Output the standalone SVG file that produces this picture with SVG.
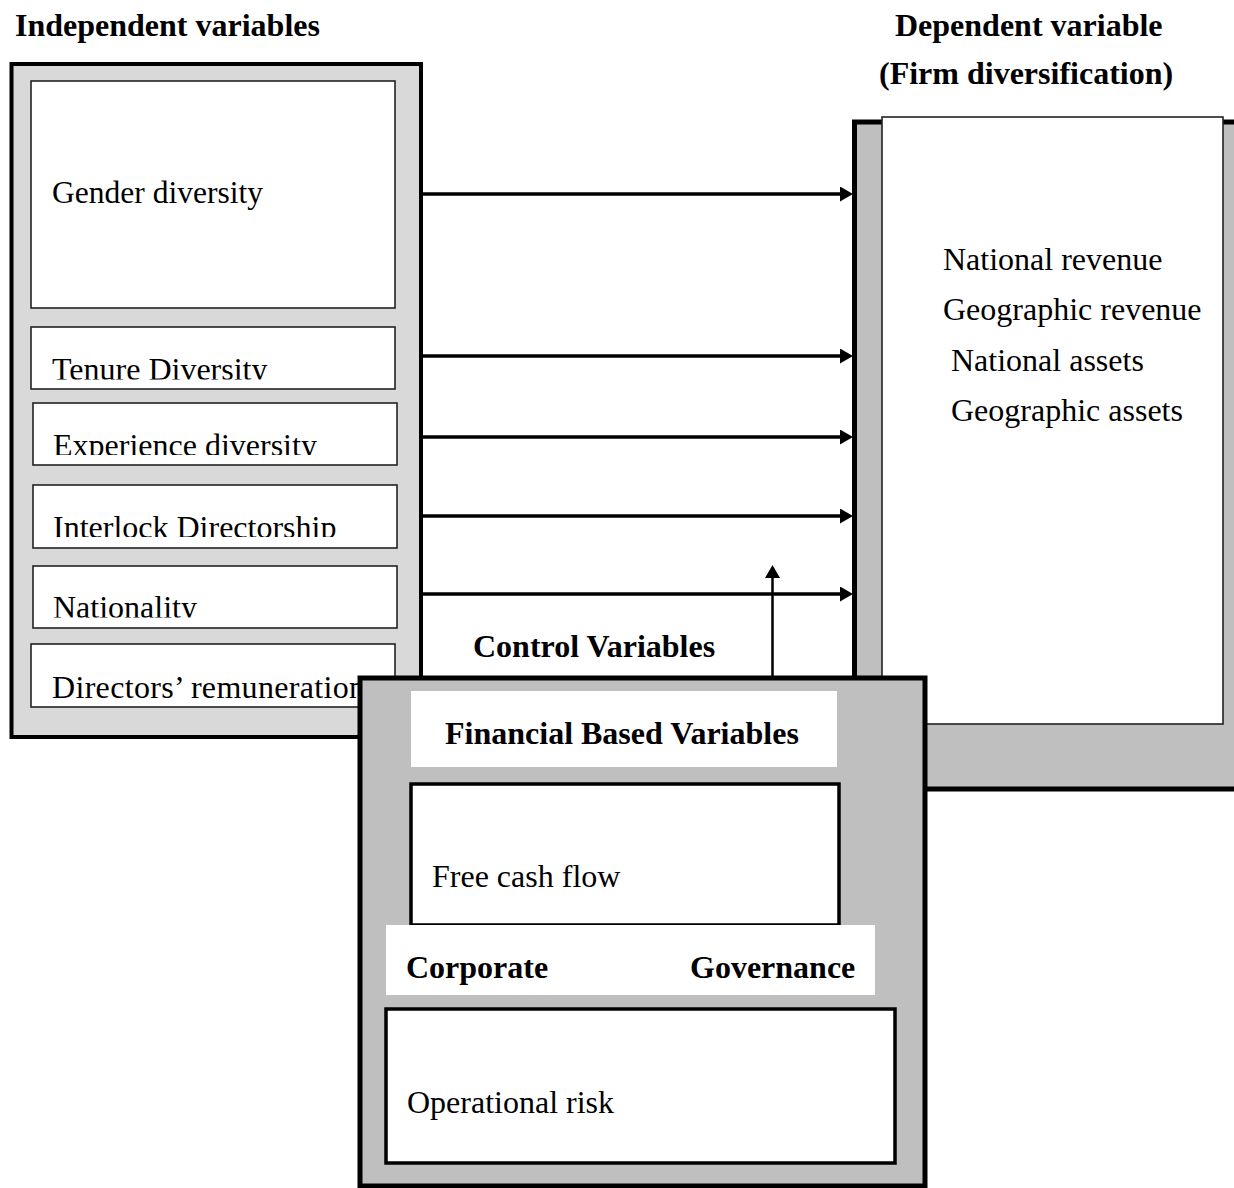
<svg xmlns="http://www.w3.org/2000/svg" width="1234" height="1188" viewBox="0 0 1234 1188">
  <style>
    text { font-family: "Liberation Serif", "Times New Roman", serif; fill: #000; }
    .reg { font-size: 32px; }
    .bold { font-size: 32px; font-weight: bold; }
    .outerL { fill: #d9d9d9; stroke: #000; stroke-width: 4; }
    .outerG { fill: #bfbfbf; stroke: #000; stroke-width: 5; }
    .item { fill: #fff; stroke: #222; stroke-width: 1.6; }
    .fin { fill: #fff; stroke: #000; stroke-width: 3.5; }
    .label { fill: #fff; stroke: none; }
    .conn { stroke: #000; stroke-width: 3.5; fill: none; }
    .connThin { stroke: #000; stroke-width: 2.5; fill: none; }
  </style>
  <defs>
    <marker id="arrow" markerUnits="userSpaceOnUse" markerWidth="14" markerHeight="16" refX="0" refY="7.5" orient="auto">
      <path d="M0,0 L13,7.5 L0,15 z" fill="#000"/>
    </marker>
    <clipPath id="clipTenure"><rect x="31" y="327" width="364" height="52.5"/></clipPath>
    <clipPath id="clipExp"><rect x="33" y="403" width="364" height="52"/></clipPath>
    <clipPath id="clipInter"><rect x="33" y="485" width="364" height="52"/></clipPath>
    <clipPath id="clipNat"><rect x="33" y="566" width="364" height="51.5"/></clipPath>
  </defs>

  <rect width="1234" height="1188" fill="#fff"/>

  <g id="title-independent">
    <text class="bold" x="15" y="36">Independent variables</text>
  </g>
  <g id="title-dependent">
    <text class="bold" x="895" y="36">Dependent variable</text>
    <text class="bold" x="879" y="84">(Firm diversification)</text>
  </g>

  <g id="independent-box">
    <rect class="outerL" x="11.5" y="64" width="409.5" height="673"/>
    <g id="gender-diversity">
      <rect class="item" x="31" y="81" width="364" height="227"/>
      <text class="reg" x="52" y="203" textLength="211" lengthAdjust="spacingAndGlyphs">Gender diversity</text>
    </g>
    <g id="tenure-diversity">
      <rect class="item" x="31" y="327" width="364" height="62"/>
      <text class="reg" x="52" y="380" clip-path="url(#clipTenure)">Tenure Diversity</text>
    </g>
    <g id="experience-diversity">
      <rect class="item" x="33" y="403" width="364" height="62"/>
      <text class="reg" x="53" y="456" clip-path="url(#clipExp)">Experience diversity</text>
    </g>
    <g id="interlock-directorship">
      <rect class="item" x="33" y="485" width="364" height="63"/>
      <text class="reg" x="53" y="538" clip-path="url(#clipInter)">Interlock Directorship</text>
    </g>
    <g id="nationality">
      <rect class="item" x="33" y="566" width="364" height="62"/>
      <text class="reg" x="53" y="618" clip-path="url(#clipNat)">Nationality</text>
    </g>
    <g id="directors-remuneration">
      <rect class="item" x="31" y="644" width="364" height="63"/>
      <text class="reg" x="52" y="698" textLength="313" lengthAdjust="spacing">Directors’ remuneration</text>
    </g>
  </g>

  <g id="dependent-box">
    <rect class="outerG" x="854.5" y="122" width="400" height="667"/>
    <rect class="item" x="882" y="117" width="341" height="607"/>
    <text class="reg" x="943" y="269.5">National revenue</text>
    <text class="reg" x="943" y="320">Geographic revenue</text>
    <text class="reg" x="951" y="370.5">National assets</text>
    <text class="reg" x="951" y="421">Geographic assets</text>
  </g>

  <g id="connectors">
    <line class="conn" x1="423" y1="194" x2="840" y2="194" marker-end="url(#arrow)"/>
    <line class="conn" x1="423" y1="356" x2="840" y2="356" marker-end="url(#arrow)"/>
    <line class="conn" x1="423" y1="437" x2="840" y2="437" marker-end="url(#arrow)"/>
    <line class="conn" x1="423" y1="516" x2="840" y2="516" marker-end="url(#arrow)"/>
    <line class="conn" x1="423" y1="594" x2="840" y2="594" marker-end="url(#arrow)"/>
    <line class="connThin" x1="772.5" y1="677" x2="772.5" y2="578" marker-end="url(#arrow)"/>
  </g>

  <g id="control-title">
    <text class="bold" x="473" y="657">Control Variables</text>
  </g>

  <g id="control-box">
    <rect class="outerG" x="360" y="678" width="565" height="508"/>
    <g id="financial-label">
      <rect class="label" x="411" y="691" width="426" height="76"/>
      <text class="bold" x="445" y="744">Financial Based Variables</text>
    </g>
    <g id="free-cash-flow">
      <rect class="fin" x="411" y="784" width="428" height="141"/>
      <text class="reg" x="432" y="887">Free cash flow</text>
    </g>
    <g id="governance-label">
      <rect class="label" x="386" y="925" width="489" height="70"/>
      <text class="bold" x="406" y="978">Corporate</text>
      <text class="bold" x="690" y="978">Governance</text>
    </g>
    <g id="operational-risk">
      <rect class="fin" x="386" y="1009" width="509" height="154"/>
      <text class="reg" x="407" y="1113">Operational risk</text>
    </g>
  </g>
</svg>
